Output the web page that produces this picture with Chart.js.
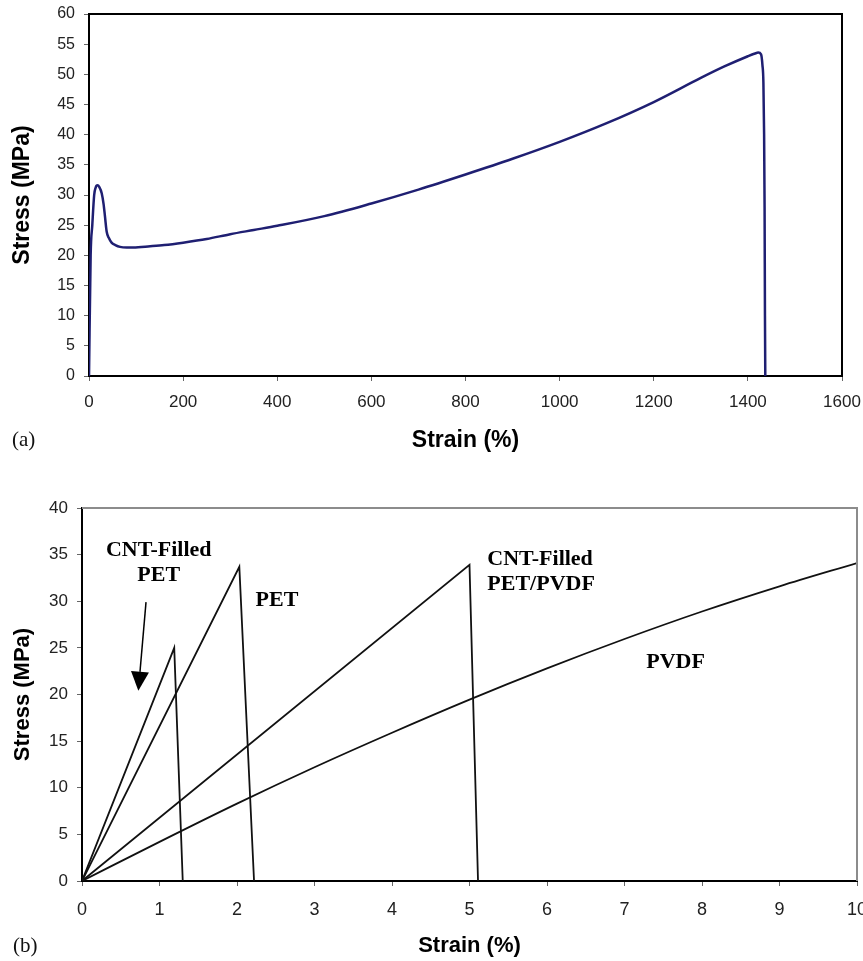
<!DOCTYPE html>
<html><head><meta charset="utf-8">
<script src="https://cdn.jsdelivr.net/npm/chart.js@4.4.1/dist/chart.umd.min.js"></script>
<style>
html,body{margin:0;padding:0;background:#fff;}
canvas{position:absolute;left:0;display:block;}
#chartA{top:0;}
#chartB{top:470px;}
</style></head><body>
<canvas id="chartA" width="863" height="470"></canvas>
<canvas id="chartB" width="863" height="491"></canvas>
<script>
// ---------- DATA ----------
// Panel (a): single stress-strain curve
const strainA = [0, 3.5, 7, 11, 14, 18, 22, 27, 31, 34, 37.6, 42, 48, 56, 66, 80, 94, 130, 160, 200, 250, 300, 350, 400, 500, 600, 700, 800, 900, 1000, 1100, 1200, 1300, 1350, 1400, 1415, 1422, 1428, 1431, 1433, 1434.5, 1435.5, 1436.3, 1437];
const stressA = [0, 20, 25, 30, 31.2, 31.6, 31.3, 30.3, 28.5, 26.4, 23.9, 22.9, 22.1, 21.7, 21.4, 21.3, 21.3, 21.5, 21.7, 22.1, 22.7, 23.5, 24.2, 24.9, 26.5, 28.6, 30.9, 33.4, 36.0, 38.8, 41.9, 45.4, 49.4, 51.3, 53.0, 53.45, 53.6, 53.3, 51.5, 48.6, 40, 28, 10, 0];

// Panel (b): four materials
const cntPetStrain = [0, 1.19, 1.30];
const cntPetStress = [0, 25.0, 0];
const petStrain = [0, 2.03, 2.22];
const petStress = [0, 33.7, 0];
const cntPetPvdfStrain = [0, 5.0, 5.11];
const cntPetPvdfStress = [0, 33.9, 0];
const pvdfStrain = [0, 1, 2, 3, 4, 5, 6, 7, 8, 9, 10];
const pvdfStress = [0, 4.2, 8.3, 12.2, 15.9, 19.45, 22.8, 25.95, 28.9, 31.6, 34.1];

// Annotation labels of panel (b) (anchored in data units)
const labelsB = [
  {lines: ['CNT-Filled', 'PET'], x: 0.99, y: [35.5, 32.8], align: 'center'},
  {lines: ['PET'], x: 2.24, y: [30.1], align: 'left'},
  {lines: ['CNT-Filled', 'PET/PVDF'], x: 5.23, y: [34.5, 31.8], align: 'left'},
  {lines: ['PVDF'], x: 7.28, y: [23.4], align: 'left'}
];
const arrowB = {from: [0.826, 29.9], to: [0.727, 20.4]};

// ---------- HELPERS ----------
const SANS = '"Liberation Sans", Arial, Helvetica, sans-serif';
const SERIF = '"Liberation Serif", "Times New Roman", serif';
const pts = (xs, ys) => xs.map((x, i) => ({x: x, y: ys[i]}));

function framePlugin(color, width) {
  return {
    id: 'frame',
    afterDatasetsDraw(chart) {
      const a = chart.chartArea, c = chart.ctx;
      c.save();
      c.strokeStyle = color; c.lineWidth = width;
      c.beginPath();
      c.moveTo(a.left, a.top); c.lineTo(a.right, a.top); c.lineTo(a.right, a.bottom);
      c.stroke();
      c.restore();
    }
  };
}
function panelLabel(text, x, y) {
  return {
    id: 'panelLabel',
    afterDraw(chart) {
      const c = chart.ctx;
      c.save();
      c.font = '21px ' + SERIF;
      c.fillStyle = '#111';
      c.textAlign = 'left'; c.textBaseline = 'middle';
      c.fillText(text, x, y);
      c.restore();
    }
  };
}

function axisCfg(min, max, step, tickSize, tickPad, titleText, titleSize, titlePad, isX, fitSize) {
  return {
    type: 'linear', min: min, max: max,
    ticks: {stepSize: step, padding: tickPad, color: '#222', font: {family: SANS, size: tickSize}, maxRotation: 0, autoSkip: false,
            callback: v => String(v)},
    grid: {display: true, drawOnChartArea: false, drawTicks: true, tickLength: 5, color: '#666', lineWidth: 1},
    border: {display: true, color: '#000', width: 2},
    title: {display: true, text: titleText, color: '#000', font: {family: SANS, size: titleSize, weight: 'bold'}, padding: titlePad},
    afterFit(s) {
      if (isX) { s.height = fitSize; s.paddingLeft = 0; s.paddingRight = 0; }
      else { s.width = fitSize; s.paddingTop = 0; s.paddingBottom = 0; }
    }
  };
}

// ---------- CHART A ----------
new Chart(document.getElementById('chartA'), {
  type: 'scatter',
  data: {datasets: [{
    data: pts(strainA, stressA), showLine: true, borderColor: '#1f1f72', borderWidth: 2.5,
    pointRadius: 0, cubicInterpolationMode: 'monotone', fill: false
  }]},
  options: {
    responsive: false, animation: false, devicePixelRatio: 1,
    layout: {padding: {top: 14, right: 21, left: 0, bottom: 0}},
    plugins: {legend: {display: false}, tooltip: {enabled: false}},
    scales: {
      x: axisCfg(0, 1600, 200, 17, 11, 'Strain (%)', 23, {top: 0, bottom: 16}, true, 94),
      y: axisCfg(0, 60, 5, 16, 9, 'Stress (MPa)', 23, {top: 9, bottom: 0}, false, 89)
    }
  },
  plugins: [framePlugin('#000', 2), panelLabel('(a)', 12, 440)]
});

// ---------- CHART B ----------
const annotB = {
  id: 'annotB',
  afterDatasetsDraw(chart) {
    const c = chart.ctx, xs = chart.scales.x, ys = chart.scales.y;
    c.save();
    c.fillStyle = '#000';
    c.font = 'bold 22px ' + SERIF;
    c.textBaseline = 'middle';
    labelsB.forEach(l => {
      c.textAlign = l.align;
      l.lines.forEach((t, i) => c.fillText(t, xs.getPixelForValue(l.x), ys.getPixelForValue(l.y[i])));
    });
    // arrow
    const x1 = xs.getPixelForValue(arrowB.from[0]), y1 = ys.getPixelForValue(arrowB.from[1]);
    const x2 = xs.getPixelForValue(arrowB.to[0]), y2 = ys.getPixelForValue(arrowB.to[1]);
    const ang = Math.atan2(y2 - y1, x2 - x1), hl = 19, hw = 9;
    const bx = x2 - hl * Math.cos(ang), by = y2 - hl * Math.sin(ang);
    c.strokeStyle = '#000'; c.lineWidth = 1.5;
    c.beginPath(); c.moveTo(x1, y1); c.lineTo(bx, by); c.stroke();
    c.beginPath();
    c.moveTo(x2, y2);
    c.lineTo(bx + hw * Math.sin(ang), by - hw * Math.cos(ang));
    c.lineTo(bx - hw * Math.sin(ang), by + hw * Math.cos(ang));
    c.closePath(); c.fill();
    c.restore();
  }
};
const lineDs = (xs, ys) => ({data: pts(xs, ys), showLine: true, borderColor: '#111', borderWidth: 1.8, pointRadius: 0, tension: 0, fill: false});

new Chart(document.getElementById('chartB'), {
  type: 'scatter',
  data: {datasets: [
    lineDs(cntPetStrain, cntPetStress),
    lineDs(petStrain, petStress),
    lineDs(cntPetPvdfStrain, cntPetPvdfStress),
    Object.assign(lineDs(pvdfStrain, pvdfStress), {cubicInterpolationMode: 'monotone'})
  ]},
  options: {
    responsive: false, animation: false, devicePixelRatio: 1,
    layout: {padding: {top: 38, right: 6, left: 0, bottom: 0}},
    plugins: {legend: {display: false}, tooltip: {enabled: false}},
    scales: {
      x: axisCfg(0, 10, 1, 18, 13, 'Strain (%)', 22, {top: 0, bottom: 2}, true, 80),
      y: axisCfg(0, 40, 5, 17, 9, 'Stress (MPa)', 22, {top: 10, bottom: 0}, false, 82)
    }
  },
  plugins: [framePlugin('#8c8c8c', 2), annotB, panelLabel('(b)', 13, 476)]
});
</script>
</body></html>
